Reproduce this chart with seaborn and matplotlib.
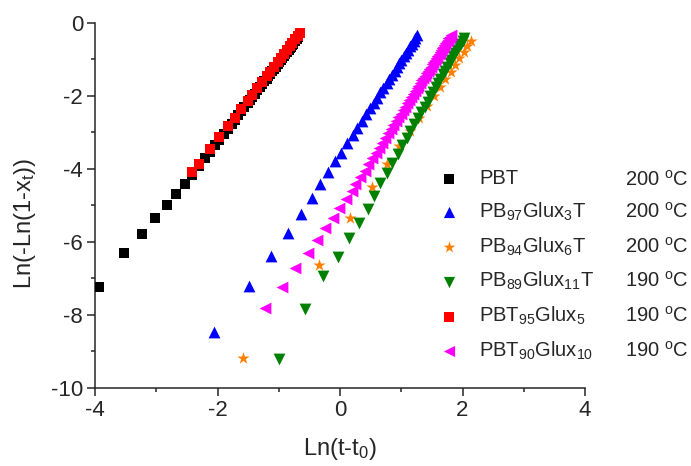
import matplotlib
matplotlib.use("Agg")
import matplotlib.pyplot as plt
import seaborn as sns
import pandas as pd
from matplotlib.ticker import MultipleLocator

# ---------------- data ----------------
names = ["PBT", r"PB$_{97}$Glux$_{3}$T", r"PB$_{94}$Glux$_{6}$T",
         r"PB$_{89}$Glux$_{11}$T", r"PBT$_{95}$Glux$_{5}$", r"PBT$_{90}$Glux$_{10}$"]
temps = [r"200 $^{\mathrm{o}}$C", r"200 $^{\mathrm{o}}$C", r"200 $^{\mathrm{o}}$C",
         r"190 $^{\mathrm{o}}$C", r"190 $^{\mathrm{o}}$C", r"190 $^{\mathrm{o}}$C"]

pbt_x = [-3.93, -3.52, -3.23, -3.02, -2.82, -2.67, -2.53, -2.41, -2.30, -2.21,
         -2.12, -2.04, -1.97, -1.90, -1.83, -1.77, -1.72, -1.66, -1.61, -1.56,
         -1.51, -1.47, -1.43, -1.39, -1.35, -1.31, -1.27, -1.24, -1.20, -1.17,
         -1.14, -1.11, -1.08, -1.05, -1.02, -0.99, -0.97, -0.94, -0.92, -0.89,
         -0.87, -0.84, -0.82, -0.80, -0.78, -0.76, -0.73, -0.71, -0.69]
pbt_y = [-7.25, -6.32, -5.80, -5.36, -4.99, -4.70, -4.41, -4.16, -3.92, -3.72,
         -3.53, -3.35, -3.20, -3.05, -2.90, -2.77, -2.66, -2.53, -2.42, -2.31,
         -2.20, -2.11, -2.03, -1.94, -1.85, -1.77, -1.68, -1.61, -1.53, -1.46,
         -1.40, -1.33, -1.26, -1.20, -1.13, -1.07, -1.03, -0.96, -0.92, -0.85,
         -0.81, -0.74, -0.70, -0.66, -0.61, -0.57, -0.50, -0.45, -0.40]

g3_x = [-2.05, -1.48, -1.12, -0.85, -0.64, -0.46, -0.32, -0.19, -0.08, 0.02,
        0.12, 0.21, 0.28, 0.36, 0.42, 0.49, 0.55, 0.60, 0.66, 0.71,
        0.76, 0.80, 0.85, 0.89, 0.93, 0.97, 1.00, 1.04, 1.07, 1.11,
        1.14, 1.17, 1.20, 1.23, 1.26]
g3_y = [-8.47, -7.21, -6.39, -5.77, -5.25, -4.79, -4.43, -4.10, -3.80, -3.56,
        -3.30, -3.08, -2.88, -2.69, -2.51, -2.35, -2.19, -2.05, -1.91, -1.78,
        -1.65, -1.53, -1.42, -1.31, -1.21, -1.11, -1.01, -0.91, -0.82, -0.74,
        -0.65, -0.57, -0.49, -0.42, -0.34]

g6_x = [-1.58, -0.35, 0.17, 0.52, 0.77, 0.97, 1.14, 1.29, 1.42, 1.53,
        1.63, 1.72, 1.81, 1.88, 1.95, 2.02, 2.08, 2.14]
g6_y = [-9.19, -6.64, -5.34, -4.49, -3.87, -3.37, -2.96, -2.60, -2.29, -2.02,
        -1.77, -1.55, -1.34, -1.15, -0.97, -0.81, -0.65, -0.51]

g11_x = [-1.00, -0.57, -0.27, -0.04, 0.15, 0.31, 0.45, 0.56, 0.66, 0.76,
         0.85, 0.94, 1.02, 1.09, 1.15, 1.21, 1.27, 1.33, 1.38, 1.43,
         1.47, 1.52, 1.56, 1.60, 1.64, 1.68, 1.72, 1.75, 1.79, 1.82,
         1.85, 1.88, 1.91, 1.94, 1.97, 2.00, 2.02]
g11_y = [-9.22, -7.85, -6.93, -6.41, -5.90, -5.50, -5.10, -4.75, -4.40, -4.13,
         -3.85, -3.60, -3.36, -3.15, -2.96, -2.78, -2.61, -2.45, -2.30, -2.16,
         -2.02, -1.89, -1.76, -1.64, -1.53, -1.41, -1.31, -1.20, -1.10, -1.01,
         -0.91, -0.82, -0.74, -0.65, -0.57, -0.49, -0.41]

t95_x = [-2.41, -2.30, -2.12, -1.97, -1.83, -1.72, -1.61, -1.51, -1.43, -1.35,
         -1.27, -1.20, -1.14, -1.08, -1.02, -0.97, -0.92, -0.87, -0.82, -0.78,
         -0.73, -0.69, -0.65]
t95_y = [-4.10, -3.86, -3.47, -3.14, -2.84, -2.60, -2.36, -2.14, -1.97, -1.79,
         -1.62, -1.47, -1.34, -1.20, -1.07, -0.97, -0.86, -0.75, -0.64, -0.55,
         -0.44, -0.36, -0.27]

t90_x = [-1.23, -0.94, -0.73, -0.53, -0.38, -0.25, -0.12, -0.01, 0.09, 0.19,
         0.25, 0.33, 0.40, 0.46, 0.52, 0.58, 0.64, 0.69, 0.74, 0.78,
         0.83, 0.87, 0.91, 0.95, 0.99, 1.03, 1.06, 1.10, 1.13, 1.16,
         1.19, 1.22, 1.25, 1.28, 1.31, 1.33, 1.36, 1.38, 1.41, 1.43,
         1.46, 1.48, 1.50, 1.52, 1.55, 1.57, 1.59, 1.61, 1.63, 1.65,
         1.67, 1.68, 1.70, 1.72, 1.74, 1.76, 1.77, 1.79, 1.81]
t90_y = [-7.83, -7.25, -6.73, -6.32, -5.95, -5.63, -5.34, -5.09, -4.84, -4.60,
         -4.43, -4.23, -4.05, -3.88, -3.72, -3.57, -3.42, -3.29, -3.16, -3.03,
         -2.91, -2.80, -2.69, -2.59, -2.49, -2.39, -2.30, -2.21, -2.12, -2.04,
         -1.96, -1.88, -1.80, -1.73, -1.66, -1.58, -1.52, -1.45, -1.38, -1.32,
         -1.26, -1.20, -1.14, -1.08, -1.02, -0.97, -0.91, -0.86, -0.81, -0.76,
         -0.70, -0.66, -0.61, -0.56, -0.51, -0.47, -0.42, -0.38, -0.33]

xs = [pbt_x, g3_x, g6_x, g11_x, t95_x, t90_x]
ys = [pbt_y, g3_y, g6_y, g11_y, t95_y, t90_y]

frames = []
for nm, xv, yv in zip(names, xs, ys):
    frames.append(pd.DataFrame({"x": xv, "y": yv, "series": nm}))
df = pd.concat(frames, ignore_index=True)

# ---------------- style ----------------
sns.set_style("ticks")
plt.rcParams["font.family"] = ["Liberation Sans", "DejaVu Sans"]
plt.rcParams["mathtext.fontset"] = "custom"
plt.rcParams["mathtext.rm"] = "Liberation Sans"
plt.rcParams["mathtext.it"] = "Liberation Sans"
plt.rcParams["mathtext.default"] = "regular"
plt.rcParams["axes.unicode_minus"] = False

colors = ["#000000", "#0000FF", "#FF8000", "#008000", "#FF0000", "#FF00FF"]
markers = ["s", "^", "*", "v", "s", "<"]
sizes = [62, 72, 85, 72, 62, 72]

W, H = 691, 466
fig = plt.figure(figsize=(W / 100, H / 100), dpi=100)
ax = fig.add_axes([95 / W, 1 - 387.7 / H, 490 / W, 365 / H])

for nm, c, m, s in zip(names, colors, markers, sizes):
    sns.scatterplot(data=df[df["series"] == nm], x="x", y="y", color=c,
                    marker=m, s=s, linewidth=0, ax=ax, label=nm, zorder=3)

ax.set_xlim(-4, 4)
ax.set_ylim(-10, 0)
ax.xaxis.set_major_locator(MultipleLocator(2))
ax.xaxis.set_minor_locator(MultipleLocator(1))
ax.yaxis.set_major_locator(MultipleLocator(2))
ax.yaxis.set_minor_locator(MultipleLocator(1))
for sp in ["top", "right"]:
    ax.spines[sp].set_visible(False)
for sp in ["left", "bottom"]:
    ax.spines[sp].set_linewidth(1.1)
    ax.spines[sp].set_clip_on(False)
ax.tick_params(which="major", direction="out", length=5.5, width=1.1,
               labelsize=16, pad=3)
ax.tick_params(which="minor", direction="out", length=3.2, width=1.1)

ax.set_xlabel(r"Ln(t-t$_0$)", fontsize=17)
ax.set_ylabel(r"Ln(-Ln(1-x$_\mathrm{t}$))", fontsize=17)
ax.xaxis.label.set_va("center")
ax.yaxis.label.set_va("center")
ax.xaxis.set_label_coords(0.5, (387.7 - 449) / 365)
ax.yaxis.set_label_coords((25 - 95) / 490, (387.7 - 223.5) / 365)

leg = ax.legend(loc="upper left", bbox_to_anchor=(429 / W, 1 - 169 / H),
                bbox_transform=fig.transFigure, frameon=False, fontsize=14.5,
                handletextpad=0.5, labelspacing=0.62, borderpad=0,
                borderaxespad=0, markerscale=0.95, handlelength=2.0)

fig.canvas.draw()
renderer = fig.canvas.get_renderer()
for t, tp in zip(leg.get_texts(), temps):
    bb = t.get_window_extent(renderer)
    _, _, d = renderer.get_text_width_height_descent(
        t.get_text(), t.get_fontproperties(), ismath=True)
    base = bb.y0 + d
    fig.text(688 / W, base / fig.bbox.height, tp, ha="right", va="baseline",
             fontsize=14.5)

fig.savefig("out.png", dpi=100)
